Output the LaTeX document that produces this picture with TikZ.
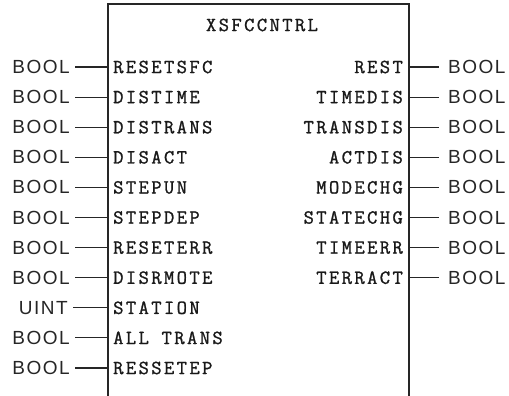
\documentclass[tikz,border=0pt]{standalone}
\usepackage{fontspec}
\newfontfamily\pinfont[LetterSpace=12,FakeBold=1.2]{Latin Modern Mono}
\newfontfamily\typefont[LetterSpace=8]{Liberation Sans}
\tikzset{
  x=1pt,y=-1pt,
  boxline/.style={line width=1.6pt,black!85},
  wire/.style={line width=1.1pt,black!85},
  pinlabel/.style={font=\pinfont\fontsize{20}{20}\selectfont,inner sep=0pt,text=black!90},
  typelabel/.style={font=\typefont\fontsize{19}{19}\selectfont,inner sep=0pt,text=black!85},
}
\begin{document}
\begin{tikzpicture}
\useasboundingbox (0,0) rectangle (509,396);
% block outline (open at the bottom)
\coordinate (bl) at (108,396);
\coordinate (tl) at (108,4);
\coordinate (tr) at (409,4);
\coordinate (br) at (409,396);
\draw[boxline] (bl) -- (tl) -- (tr) -- (br);
\node[pinlabel] (title) at (262,25) {XSFCCNTRL};
% inputs
\foreach \n/\t/\typ/\tx [count=\i from 0] in {
  ia/RESETSFC/BOOL/70, ib/DISTIME/BOOL/70, ic/DISTRANS/BOOL/70, id/DISACT/BOOL/70,
  ie/STEPUN/BOOL/70, if/STEPDEP/BOOL/70, ig/RESETERR/BOOL/70, ih/DISRMOTE/BOOL/70,
  ii/STATION/UINT/68, ij/ALL TRANS/BOOL/70, ik/RESSETEP/BOOL/70} {
  \pgfmathsetmacro{\yy}{67+30.1*\i}
  \coordinate (\n pin) at (108,\yy);
  \node[pinlabel,anchor=west] (\n lab) at (113,\yy) {\t};
  \node[typelabel,anchor=east] (\n typ) at (\tx,\yy) {\typ};
  \draw[wire] ([xshift=5pt]\n typ.east) -- (\n pin);
}
% outputs
\foreach \n/\t [count=\i from 0] in {
  oa/REST, ob/TIMEDIS, oc/TRANSDIS, od/ACTDIS, oe/MODECHG, of/STATECHG, og/TIMEERR, oh/TERRACT} {
  \pgfmathsetmacro{\yy}{67+30.1*\i}
  \coordinate (\n pin) at (409,\yy);
  \node[pinlabel,anchor=east] (\n lab) at (403,\yy) {\t};
  \node[typelabel,anchor=west] (\n typ) at (448,\yy) {BOOL};
  \draw[wire] (\n pin) -- ([xshift=-9pt]\n typ.west);
}
\end{tikzpicture}
\end{document}
